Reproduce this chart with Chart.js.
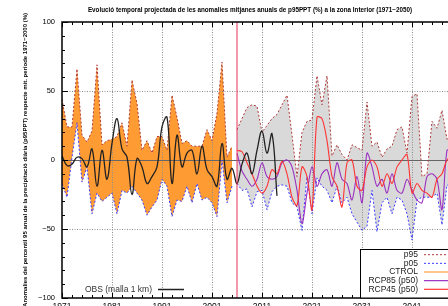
<!DOCTYPE html>
<html>
<head>
<meta charset="utf-8">
<script src="https://cdn.jsdelivr.net/npm/chart.js@4.4.0/dist/chart.umd.min.js"></script>
<style>
  html, body { margin:0; padding:0; background:#fff; overflow:hidden; }
  #wrap { width:448px; height:306px; overflow:hidden; }
  canvas { display:block; }
</style>
</head>
<body>
<div id="wrap"><canvas id="chart" width="470" height="330"></canvas></div>
<script>
// ===== Data =====
const TITLE = "Evolució temporal projectada de les anomalies mitjanes anuals de p95PPT (%) a la zona Interior (1971−2050)";
const Y_TITLE = "Anomalies del percentil 95 anual de la precipitació diària (p95PPT) respecte mit. període 1971−2000 (%)";

const X_TICKS = [1971, 1981, 1991, 2001, 2011, 2021, 2031, 2041];
const Y_TICKS = [-100, -50, 0, 50, 100];
const SPLIT_YEAR = 2006;

// control run 1971-2005
const CTRL_START = 1971;
const CTRL_P95 = [44, 24, 24, 66, 18, 13, 21, 69, 11, 14, 15, 17, 27, 10, 58, 41, 7, 14, 5, 17,
                  17, 7, 47, 31, 12, 14, 10, 10, 10, 22, 14, 34, 71, 2, 10];
const CTRL_P05 = [-17, -27, 2, 27, -16, -5, -39, -24, -30, -27, -24, -39, -22, -24, -19, -24, -29, -40, -34, -29,
                  -14, -19, -41, -29, -30, -19, -31, -17, -29, -27, -31, -41, 0, -31, -19];

// observations 1971-2014
const OBS_START = 1971;
const OBS = [3, -4, -3, 2, 1, -5, 8, -19, 7, -14, 12, 30, 8, 2, -25, 1, -5, -17, -12, -5,
             24, 31, -17, 18, -5, 5, 7, -10, 10, -7, -12, -19, 12, -14, -6, -17, -3, 5, -10, 7,
             21, 5, 19, -26];

// scenarios 2006-2050
const SCEN_START = 2006;
const SCEN_P95 = [22, 30, 38, 40, 39, 20, 25, 30, 33, 40, 47, 18, -12, 20, 28, 29, 61, 40, 61, 3,
                  11, 4, 0, 11, 9, 7, 42, 10, 13, 2, 8, 10, 22, 24, 5, 46, 48, -12, -10, 28,
                  23, 36, 15, 22, 12];
const SCEN_P05 = [-17, -22, -21, -34, -23, -22, -36, -23, -19, -18, -19, -31, -34, -51, -12, -39, -13, -19, -22, -31,
                  -19, -31, -27, -39, -45, -51, -48, -22, -52, -31, -27, -39, -27, -29, -39, -58, -29, -27, -27, -27,
                  -24, -47, -18, -20, -30];
const RCP45 = [7, 6, -2, -10, -19, -24, -19, -7, -10, -1, -10, -27, -33, -5, -12, -36, 31, 30, 14, -12,
               -19, -34, -2, 0, -19, -22, -5, 0, -5, -19, -10, -17, -5, 0, 4, -24, -17, -22, -24, -27,
               -14, -10, 0, 2, -5];
const RCP85 = [5, -8, -14, -19, -14, -2, -12, -14, -12, -2, 0, -5, -22, -46, -24, -5, -19, -10, -7, -19,
               -2, -14, -17, -29, -12, -31, 5, -5, -19, -14, -24, -10, -22, -24, -14, -22, -29, -31, -12, -10,
               -14, -36, 7, 5, -5];

// ===== Styles =====
const C = {
  orange: '#ff9b33', gray: '#d9d9d9', p95: '#b03a3a', p05: '#3a3aff',
  ctrl: '#ffb366', rcp85: '#9b30c0', rcp45: '#ff3333', obs: '#222222', split: '#e8305a'
};
const FONT = "'Liberation Sans', Arial, sans-serif";

const pts = (start, vals) => vals.map((v, i) => ({ x: start + i, y: v }));
const band = (label, data, color, order, fill, bg) => ({
  label, data, borderColor: color, borderWidth: 1, borderDash: [2, 2],
  pointRadius: 0, tension: 0, order, fill: fill || false, backgroundColor: bg || 'transparent'
});
const curve = (label, data, color, order, w, t) => ({
  label, data, borderColor: color, borderWidth: w, pointRadius: 0, tension: t, order, fill: false
});

// ===== Decorations: grid over fills, inward ticks, legend boxes, titles =====
const deco = {
  id: 'deco',
  beforeDatasetsDraw(chart) {
    const { ctx, chartArea: a, scales: { x, y } } = chart;
    ctx.save();
    ctx.lineWidth = 1;
    ctx.strokeStyle = '#8c8c8c';
    ctx.setLineDash([1, 1.5]);
    X_TICKS.slice(1).forEach(v => {
      const px = Math.round(x.getPixelForValue(v)) + 0.5;
      ctx.beginPath(); ctx.moveTo(px, a.top); ctx.lineTo(px, a.bottom); ctx.stroke();
    });
    [50, -50].forEach(v => {
      const py = Math.round(y.getPixelForValue(v)) + 0.5;
      ctx.beginPath(); ctx.moveTo(a.left, py); ctx.lineTo(a.right, py); ctx.stroke();
    });
    ctx.setLineDash([]);
    ctx.strokeStyle = '#666';
    const p0 = Math.round(y.getPixelForValue(0)) + 0.5;
    ctx.beginPath(); ctx.moveTo(a.left, p0); ctx.lineTo(a.right, p0); ctx.stroke();
    ctx.restore();
  },
  afterDatasetsDraw(chart) {
    const { ctx, chartArea: a, scales: { x, y } } = chart;
    ctx.save();
    // frame
    ctx.strokeStyle = '#000'; ctx.lineWidth = 1.5;
    ctx.strokeRect(a.left, a.top, a.right - a.left, a.bottom - a.top);
    // inward ticks
    ctx.lineWidth = 1;
    for (let v = -100; v <= 100; v += 10) {
      const py = Math.round(y.getPixelForValue(v)) + 0.5, len = v % 50 === 0 ? 6 : 3;
      ctx.beginPath(); ctx.moveTo(a.left, py); ctx.lineTo(a.left + len, py);
      ctx.moveTo(a.right, py); ctx.lineTo(a.right - len, py); ctx.stroke();
    }
    for (let v = 1971; v <= 2050; v += 2) {
      const px = Math.round(x.getPixelForValue(v)) + 0.5, len = (v - 1971) % 10 === 0 ? 5 : 3;
      ctx.beginPath(); ctx.moveTo(px, a.top); ctx.lineTo(px, a.top + len);
      ctx.moveTo(px, a.bottom); ctx.lineTo(px, a.bottom - len); ctx.stroke();
    }
    // titles
    ctx.fillStyle = '#000';
    ctx.font = 'bold 6.3px ' + FONT;
    ctx.textAlign = 'center'; ctx.textBaseline = 'middle';
    ctx.fillText(TITLE, 250, 10);
    ctx.save();
    ctx.translate(25, 13); ctx.rotate(-Math.PI / 2);
    ctx.font = 'bold 6px ' + FONT;
    ctx.textAlign = 'right';
    ctx.fillText(Y_TITLE, 0, 0);
    ctx.restore();
    // scenario legend
    const entries = [
      ['p95', C.p95, [2, 2], 1], ['p05', C.p05, [2, 2], 1], ['CTROL', C.ctrl, [], 1.5],
      ['RCP85 (p50)', C.rcp85, [], 1.2], ['RCP45 (p50)', C.rcp45, [], 1.2]
    ];
    ctx.fillStyle = '#fff';
    ctx.fillRect(360.5, 249.5, a.right - 360.5, a.bottom - 249.5);
    ctx.strokeStyle = '#000'; ctx.lineWidth = 1;
    ctx.strokeRect(360.5, 249.5, a.right - 360.5, a.bottom - 249.5);
    ctx.font = '8.5px ' + FONT; ctx.textAlign = 'right';
    entries.forEach(([t, col, dash, w], i) => {
      const yy = 254.7 + i * 8.65;
      ctx.fillStyle = '#222'; ctx.fillText(t, 418, yy);
      ctx.strokeStyle = col; ctx.lineWidth = w; ctx.setLineDash(dash);
      ctx.beginPath(); ctx.moveTo(424, yy); ctx.lineTo(a.right - 2, yy); ctx.stroke();
    });
    ctx.setLineDash([]);
    // OBS legend
    ctx.fillStyle = '#333'; ctx.fillText('OBS (malla 1 km)', 152, 289.5);
    ctx.strokeStyle = C.obs; ctx.lineWidth = 1.5;
    ctx.beginPath(); ctx.moveTo(158, 289.5); ctx.lineTo(184, 289.5); ctx.stroke();
    ctx.restore();
  }
};

new Chart(document.getElementById('chart'), {
  type: 'line',
  data: {
    datasets: [
      band('p05', pts(CTRL_START, CTRL_P05), C.p05, 6),
      band('p95', pts(CTRL_START, CTRL_P95), C.p95, 6, '-1', C.orange),
      band('p05', pts(SCEN_START, SCEN_P05), C.p05, 5),
      band('p95', pts(SCEN_START, SCEN_P95), C.p95, 5, '-1', C.gray),
      curve('RCP85 (p50)', pts(SCEN_START, RCP85), C.rcp85, 3, 1.1, 0.3),
      curve('RCP45 (p50)', pts(SCEN_START, RCP45), C.rcp45, 2, 1.1, 0.3),
      curve('OBS (malla 1 km)', pts(OBS_START, OBS), C.obs, 1, 1.3, 0.4),
      curve('split', [{ x: SPLIT_YEAR, y: -100 }, { x: SPLIT_YEAR, y: 100 }], C.split, 0, 1, 0)
    ]
  },
  options: {
    responsive: false,
    animation: false,
    devicePixelRatio: 1,
    layout: { padding: { top: 22, right: 13, left: 0, bottom: 0 } },
    plugins: {
      legend: { display: false },
      tooltip: { enabled: false },
      title: { display: false },
      filler: { drawTime: 'beforeDatasetsDraw', propagate: false }
    },
    scales: {
      x: {
        type: 'linear', min: 1971, max: 2050,
        afterBuildTicks: s => { s.ticks = X_TICKS.map(v => ({ value: v })); },
        afterFit: s => { s.height = 32; },
        grid: { display: false, drawTicks: false }, border: { display: false },
        ticks: { padding: 4, maxRotation: 0, color: '#000', font: { family: FONT, size: 8.5 }, callback: v => String(v) }
      },
      y: {
        min: -100, max: 100,
        afterBuildTicks: s => { s.ticks = Y_TICKS.map(v => ({ value: v })); },
        afterFit: s => { s.width = 62; },
        grid: { display: false, drawTicks: false }, border: { display: false },
        ticks: { padding: 7, color: '#000', font: { family: FONT, size: 7.5 }, callback: v => v < 0 ? '−' + Math.abs(v) : String(v) }
      }
    }
  },
  plugins: [deco]
});
</script>
</body>
</html>
